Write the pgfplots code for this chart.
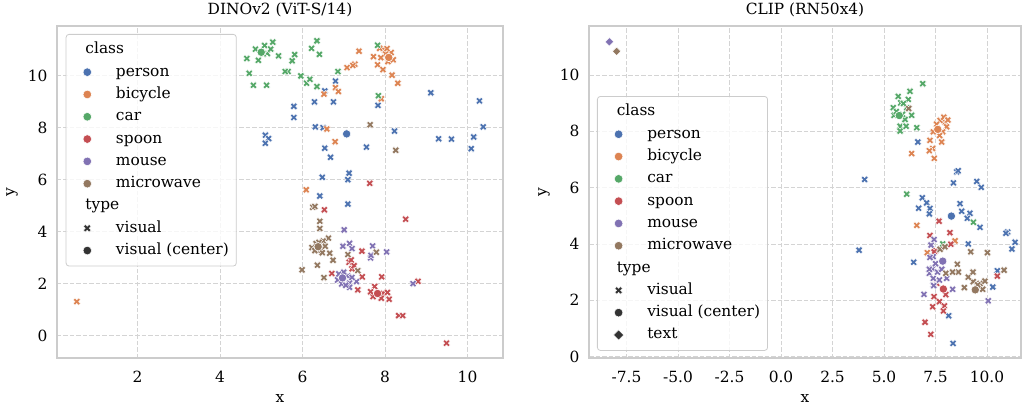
\documentclass[border=0pt]{standalone}
\usepackage{fontspec}
\setmainfont{DejaVu Serif}
\usepackage{pgfplots}
\pgfplotsset{compat=1.18}
\definecolor{cA}{HTML}{4C72B0}
\definecolor{cB}{HTML}{DD8452}
\definecolor{cC}{HTML}{55A868}
\definecolor{cD}{HTML}{C44E52}
\definecolor{cE}{HTML}{8172B3}
\definecolor{cF}{HTML}{937860}
\definecolor{gridc}{HTML}{D4D4D4}
\definecolor{framec}{HTML}{CCCCCC}
\definecolor{dark}{HTML}{333333}
\pgfdeclareplotmark{X}{%
 \pgfpathmoveto{\pgfqpoint{-0.5\pgfplotmarksize}{-1\pgfplotmarksize}}%
 \pgfpathlineto{\pgfqpoint{0pt}{-0.5\pgfplotmarksize}}%
 \pgfpathlineto{\pgfqpoint{0.5\pgfplotmarksize}{-1\pgfplotmarksize}}%
 \pgfpathlineto{\pgfqpoint{1\pgfplotmarksize}{-0.5\pgfplotmarksize}}%
 \pgfpathlineto{\pgfqpoint{0.5\pgfplotmarksize}{0pt}}%
 \pgfpathlineto{\pgfqpoint{1\pgfplotmarksize}{0.5\pgfplotmarksize}}%
 \pgfpathlineto{\pgfqpoint{0.5\pgfplotmarksize}{1\pgfplotmarksize}}%
 \pgfpathlineto{\pgfqpoint{0pt}{0.5\pgfplotmarksize}}%
 \pgfpathlineto{\pgfqpoint{-0.5\pgfplotmarksize}{1\pgfplotmarksize}}%
 \pgfpathlineto{\pgfqpoint{-1\pgfplotmarksize}{0.5\pgfplotmarksize}}%
 \pgfpathlineto{\pgfqpoint{-0.5\pgfplotmarksize}{0pt}}%
 \pgfpathlineto{\pgfqpoint{-1\pgfplotmarksize}{-0.5\pgfplotmarksize}}%
 \pgfpathclose
 \pgfusepathqfillstroke}
\newcommand{\ff}{\fontsize{15.4}{18}\selectfont}
\pgfplotsset{
  base/.style={
    scale only axis, width=446pt, height=332pt,
    font=\ff,
    axis line style={framec, line width=1.1pt},
    grid=major,
    major grid style={gridc, dash pattern=on 4.5pt off 2pt, line width=0.9pt},
    major tick length=0pt,
    tick style={draw=none},
    yticklabel style={xshift=-6pt},
    xticklabel style={yshift=-10pt},
    xlabel={x}, ylabel={y},
    xlabel style={at={(axis description cs:0.5,0)}, anchor=base, yshift=-44pt},
    ylabel style={at={(axis description cs:0,0.5)}, anchor=center, yshift=45pt},
    title style={at={(axis description cs:0.5,1)}, anchor=base, yshift=5pt},
    legend cell align=left,
    legend image code/.code={\path (0pt,0pt) (41.6pt,0pt); \draw[##1, opacity=1, fill opacity=1, draw opacity=1] plot coordinates {(15.3pt,0pt)};},
    legend style={draw=framec, line width=0.8pt, fill=white, fill opacity=0.8, text opacity=1,
      rounded corners=3pt, font=\ff, anchor=north west, row sep=3.3pt, inner ysep=6pt, inner xsep=5.5pt,
      nodes={inner ysep=2pt, text height=11.5pt, text depth=3.5pt}},
  },
  vis/.style={only marks, mark=X, mark size=3.6pt, mark options={fill=#1, draw=white, line width=0.4pt}, forget plot},
  cen/.style={only marks, mark=*, mark size=4.2pt, mark options={fill=#1, draw=white, line width=0.6pt}, forget plot},
  txt/.style={only marks, mark=square*, mark size=3.0pt, mark options={rotate=45, fill=#1, draw=white, line width=0.5pt}, forget plot},
  lc/.style={only marks, mark=*, mark size=4.3pt, mark options={fill=#1, draw=white, line width=0.5pt, opacity=1}},
}
\begin{document}
\begin{tikzpicture}
\useasboundingbox (-57pt,-46pt) rectangle (978pt,358pt);
% ---------------- DINOv2 ----------------
\begin{axis}[base, at={(0pt,0pt)}, anchor=south west,
  title={DINOv2 (ViT-S/14)},
  xmin=0.05, xmax=10.86, ymin=-0.85, ymax=11.92,
  xtick={2,4,6,8,10}, xticklabels={2,4,6,8,10},
  ytick={0,2,4,6,8,10}, yticklabels={0,2,4,6,8,10},
  legend style={at={(axis description cs:0.0195,0.976)}},
]
\addplot[vis=cA] coordinates {(5.10,7.72)(5.18,7.59)(5.10,7.41)(5.79,8.83)(5.79,8.40)(6.29,9.0)(6.75,9.0)(6.80,9.80)(6.54,9.42)(6.31,8.04)(6.50,8.01)(6.54,7.22)(6.68,6.87)(7.55,7.26)(7.83,8.87)(8.23,7.88)(9.11,9.35)(9.30,7.58)(9.61,7.57)(10.15,7.65)(10.09,7.20)(10.29,9.04)(10.38,8.04)(6.48,6.10)(7.13,6.26)(7.10,6.01)(6.42,5.38)(7.10,5.07)};
\addplot[vis=cB] coordinates {(7.37,10.95)(7.08,10.32)(7.27,10.45)(7.22,10.40)(7.72,10.74)(7.82,10.43)(7.95,10.24)(7.98,11.0)(7.87,11.06)(8.07,10.55)(8.17,10.03)(8.31,9.72)(6.80,9.55)(6.87,9.40)(6.52,9.30)(6.59,7.96)(6.79,7.47)(7.91,9.12)(6.09,5.62)(0.53,1.32)(8.02,10.85)(8.15,10.9)(8.2,10.62)(7.9,10.7)(8.05,11.05)};
\addplot[vis=cC] coordinates {(4.65,10.67)(4.86,11.03)(4.93,10.6)(5.08,11.17)(5.15,10.86)(5.23,11.03)(5.28,11.3)(5.42,10.77)(4.71,10.1)(4.81,9.64)(5.13,9.64)(5.65,10.17)(5.58,10.17)(5.75,10.58)(5.81,10.82)(5.96,10.0)(6.22,11.06)(6.35,11.35)(6.41,10.83)(6.10,9.72)(6.18,9.87)(6.35,9.59)(6.86,10.17)(7.82,11.18)(7.84,9.24)(5.05,10.85)};
\addplot[vis=cD] coordinates {(7.63,5.87)(6.53,4.85)(8.50,4.49)(7.44,3.26)(6.71,2.40)(7.20,2.58)(7.13,2.83)(7.18,2.92)(7.45,2.27)(7.92,2.27)(7.34,1.77)(7.75,1.90)(7.71,1.51)(7.95,1.64)(8.10,1.41)(8.06,1.67)(7.91,1.45)(7.65,1.70)(8.33,0.78)(8.43,0.78)(8.80,2.10)(9.49,-0.28)(7.25,2.7)};
\addplot[vis=cE] coordinates {(7.01,4.08)(6.98,3.45)(7.14,3.56)(7.20,3.36)(7.70,3.46)(7.65,3.0)(7.66,3.10)(8.04,3.23)(6.88,2.38)(7.10,2.30)(7.14,2.03)(7.31,2.09)(7.14,1.87)(8.68,2.01)(6.85,2.15)(6.95,2.0)(7.05,1.95)(7.2,2.25)(7.0,2.45)};
\addplot[vis=cF] coordinates {(6.25,4.95)(6.30,4.98)(6.42,4.41)(6.42,4.13)(6.23,3.40)(6.63,3.76)(6.50,3.65)(6.66,3.18)(6.74,2.91)(6.36,2.72)(5.99,2.54)(6.52,2.24)(7.10,3.13)(7.34,2.51)(7.79,3.22)(7.64,8.12)(8.26,7.14)(6.30,3.28)(6.45,3.30)(6.33,3.55)(6.48,3.20)(6.55,3.45)(6.40,3.60)};
\addplot[cen=cA] coordinates {(7.07,7.77)};
\addplot[cen=cB] coordinates {(8.09,10.71)};
\addplot[cen=cC] coordinates {(5.0,10.91)};
\addplot[cen=cD] coordinates {(7.82,1.63)};
\addplot[cen=cE] coordinates {(6.97,2.23)};
\addplot[cen=cF] coordinates {(6.38,3.43)};
\addlegendimage{empty legend}\addlegendentry{\hspace*{-30.5pt}class}
\addlegendimage{lc=cA}\addlegendentry{person}
\addlegendimage{lc=cB}\addlegendentry{bicycle}
\addlegendimage{lc=cC}\addlegendentry{car}
\addlegendimage{lc=cD}\addlegendentry{spoon}
\addlegendimage{lc=cE}\addlegendentry{mouse}
\addlegendimage{lc=cF}\addlegendentry{microwave}
\addlegendimage{empty legend}\addlegendentry{\hspace*{-30.5pt}type}
\addlegendimage{only marks, mark=X, mark size=3.8pt, mark options={fill=dark, draw=white, line width=0.4pt, opacity=1}}\addlegendentry{visual}
\addlegendimage{only marks, mark=*, mark size=4.3pt, mark options={fill=dark, draw=white, line width=0.5pt, opacity=1}}\addlegendentry{visual (center)}
\end{axis}
% ---------------- CLIP ----------------
\begin{axis}[base, at={(532pt,0pt)}, anchor=south west, width=432pt,
  title={CLIP (RN50x4)},
  xmin=-9.32, xmax=11.65, ymin=-0.05, ymax=11.74,
  xtick={-7.5,-5,-2.5,0,2.5,5,7.5,10}, xticklabels={-7.5,-5.0,-2.5,0.0,2.5,5.0,7.5,10.0},
  ytick={0,2,4,6,8,10}, yticklabels={0,2,4,6,8,10},
  legend style={at={(axis description cs:0.0185,0.789)}},
]
\addplot[vis=cA] coordinates {(6.64,7.62)(4.06,6.29)(8.53,6.56)(8.37,6.17)(9.50,6.22)(9.72,6.01)(6.86,5.64)(6.68,5.27)(7.07,5.46)(7.23,5.26)(7.20,5.07)(8.69,5.43)(8.77,5.16)(9.17,5.09)(9.04,4.91)(9.66,4.59)(11.0,4.42)(10.92,4.38)(11.36,4.06)(11.21,3.82)(3.79,3.78)(6.44,3.35)(9.09,4.0)(10.50,3.05)(10.28,2.47)(8.14,1.45)(8.35,0.47)(8.6,6.6)};
\addplot[vis=cB] coordinates {(7.96,8.33)(7.72,8.39)(8.04,8.16)(7.39,7.98)(7.85,7.98)(7.23,7.68)(7.80,7.62)(7.36,7.39)(7.20,7.31)(6.34,7.21)(7.44,7.04)(6.59,4.66)(8.45,4.11)(7.10,3.69)(7.9,8.5)(8.1,8.4)(7.55,8.25)(7.7,7.85)};
\addplot[vis=cC] coordinates {(6.88,9.69)(6.26,9.42)(5.69,9.24)(6.18,9.13)(5.81,9.01)(5.45,8.84)(6.10,8.84)(5.49,8.57)(6.34,8.57)(6.02,8.42)(5.78,8.18)(6.59,8.13)(5.78,8.01)(6.07,8.18)(5.94,8.99)(6.10,5.77)(9.34,4.77)(7.85,4.0)(5.6,8.7)(5.9,8.6)};
\addplot[vis=cD] coordinates {(8.24,3.99)(7.43,2.13)(7.69,1.95)(7.36,1.77)(7.93,1.80)(7.88,1.62)(6.99,1.22)(7.27,0.79)(10.50,2.86)(7.56,2.60)(7.67,4.81)(8.20,4.40)(7.23,4.30)(7.51,3.76)(7.43,3.72)(8.0,2.2)};
\addplot[vis=cE] coordinates {(7.39,3.55)(7.36,3.13)(7.20,2.96)(7.39,2.78)(7.39,2.54)(7.69,2.72)(8.04,2.78)(8.33,2.39)(6.94,2.21)(10.06,1.98)(7.28,3.96)(7.43,4.16)(7.23,3.52)(7.20,3.10)(7.41,2.52)(7.6,3.0)(7.8,3.1)(7.5,3.3)};
\addplot[vis=cF] coordinates {(6.20,8.81)(9.21,3.72)(10.02,3.69)(10.83,3.07)(8.56,3.28)(8.61,3.0)(8.33,3.0)(9.33,2.66)(8.90,2.45)(9.66,2.60)(9.90,2.68)(9.79,2.39)(9.09,2.82)(8.0,2.96)(7.72,3.81)(7.96,3.90)(9.32,3.0)(9.55,2.55)};
\addplot[cen=cA] coordinates {(8.27,4.99)};
\addplot[cen=cB] coordinates {(7.61,8.07)};
\addplot[cen=cC] coordinates {(5.74,8.56)};
\addplot[cen=cD] coordinates {(7.88,2.40)};
\addplot[cen=cE] coordinates {(7.85,3.39)};
\addplot[cen=cF] coordinates {(9.43,2.37)};
\addplot[txt=cE] coordinates {(-8.33,11.18)};
\addplot[txt=cF] coordinates {(-7.98,10.84)};
\addlegendimage{empty legend}\addlegendentry{\hspace*{-30.5pt}class}
\addlegendimage{lc=cA}\addlegendentry{person}
\addlegendimage{lc=cB}\addlegendentry{bicycle}
\addlegendimage{lc=cC}\addlegendentry{car}
\addlegendimage{lc=cD}\addlegendentry{spoon}
\addlegendimage{lc=cE}\addlegendentry{mouse}
\addlegendimage{lc=cF}\addlegendentry{microwave}
\addlegendimage{empty legend}\addlegendentry{\hspace*{-30.5pt}type}
\addlegendimage{only marks, mark=X, mark size=3.8pt, mark options={fill=dark, draw=white, line width=0.4pt, opacity=1}}\addlegendentry{visual}
\addlegendimage{only marks, mark=*, mark size=4.3pt, mark options={fill=dark, draw=white, line width=0.5pt, opacity=1}}\addlegendentry{visual (center)}
\addlegendimage{only marks, mark=square*, mark size=3.6pt, mark options={rotate=45, fill=dark, draw=white, line width=0.5pt, opacity=1}}\addlegendentry{text}
\end{axis}
\end{tikzpicture}
\end{document}
